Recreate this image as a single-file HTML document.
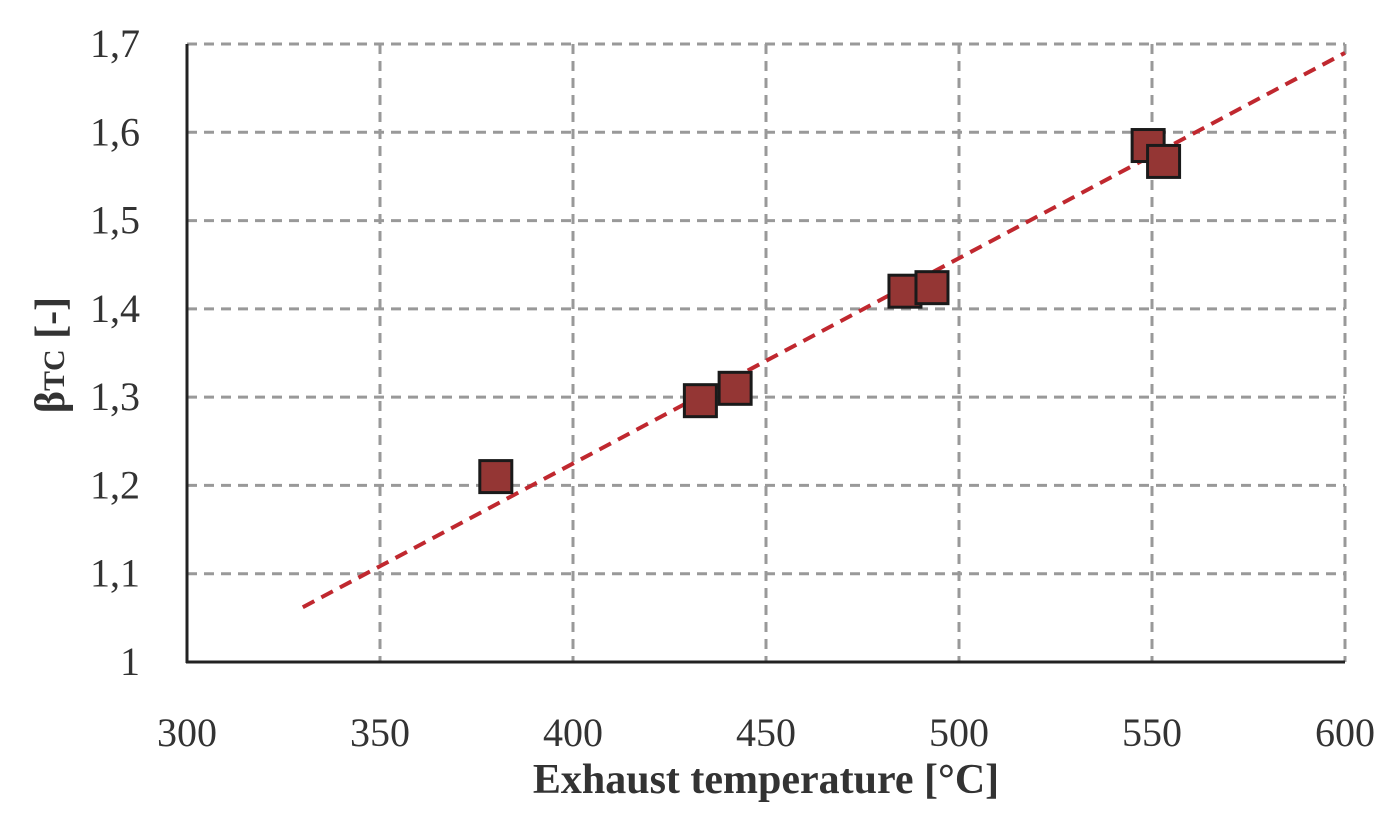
<!DOCTYPE html>
<html><head><meta charset="utf-8"><style>
body{margin:0;background:#fff;}
svg{display:block;font-family:"Liberation Serif",serif;}
</style></head><body>
<svg id="chart" width="1400" height="819">
<g id="grid"></g><g id="axes"></g><g id="trend"></g><g id="pts"></g><g id="labels"></g>
<text x="766" y="793" font-size="42" font-weight="bold" text-anchor="middle" fill="#333">Exhaust temperature [°C]</text>
<text transform="translate(64,355) rotate(-90)" font-size="42" font-weight="bold" text-anchor="middle" fill="#333">β<tspan font-size="30">TC</tspan> [-]</text>
</svg>
<script>
const xTicks=[300,350,400,450,500,550,600];
const yTicks=[1,1.1,1.2,1.3,1.4,1.5,1.6,1.7];
const yTickLabels=["1","1,1","1,2","1,3","1,4","1,5","1,6","1,7"];
const tempValues=[380,433,442,486,493,549,553];
const betaValues=[1.21,1.296,1.31,1.42,1.424,1.585,1.567];
const trendX=[330,600];
const trendY=[1.062,1.69];
const NS="http://www.w3.org/2000/svg";
const X=v=>187+(v-300)*(1345-187)/300;
const Y=v=>662-(v-1)*(662-44)/0.7;
function mk(p,t,a){const e=document.createElementNS(NS,t);for(const k in a)e.setAttribute(k,a[k]);document.getElementById(p).appendChild(e);return e;}
xTicks.forEach((v,i)=>{
 if(i>0){const l=mk('grid','line',{x1:X(v),x2:X(v),y1:44,y2:662,stroke:'#999','stroke-width':3,'stroke-dasharray':'10,7'});
 
 }
 const t=mk('labels','text',{x:X(v),y:746,'font-size':40,'text-anchor':'middle',fill:'#333'});t.textContent=v;
 
 
});
yTicks.forEach((v,i)=>{
 if(i>0){const l=mk('grid','line',{x1:187,x2:1345,y1:Y(v),y2:Y(v),stroke:'#999','stroke-width':3,'stroke-dasharray':'10,7'});
 
 }
 const t=mk('labels','text',{x:140,y:Y(v)+13,'font-size':40,'text-anchor':'end',fill:'#333'});t.textContent=yTickLabels[i];
 
 
});
const ya=mk('axes','line',{x1:187,x2:187,y1:44,y2:663,stroke:'#222','stroke-width':3});


const xa=mk('axes','line',{x1:186,x2:1345,y1:662,y2:662,stroke:'#222','stroke-width':3});


const tl=mk('trend','line',{x1:X(trendX[0]),y1:Y(trendY[0]),x2:X(trendX[1]),y2:Y(trendY[1]),stroke:'#c0282f','stroke-width':4,'stroke-dasharray':'13,8'});


tempValues.forEach((v,i)=>{
 const r=mk('pts','rect',{x:X(v)-16,y:Y(betaValues[i])-16,width:32,height:32,fill:'#943634',stroke:'#1a1a1a','stroke-width':3});
 
 
});
</script>
</body></html>
